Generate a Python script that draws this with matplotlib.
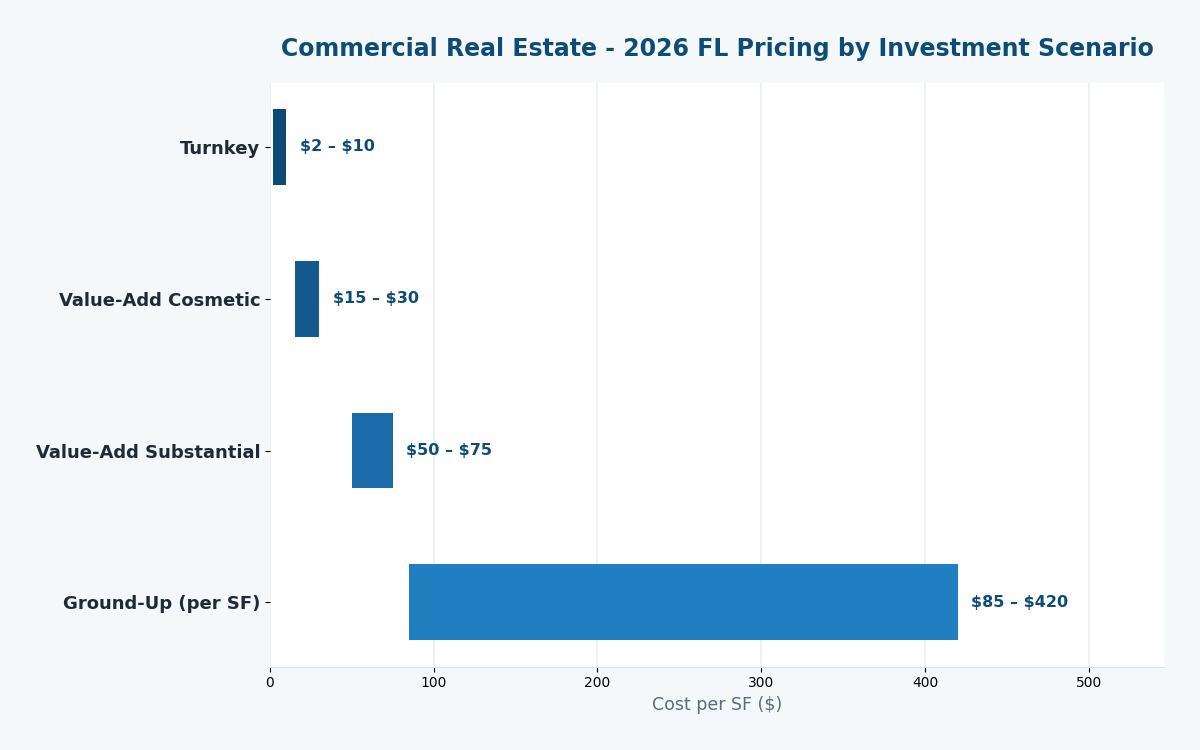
import matplotlib
matplotlib.use("Agg")
import matplotlib.pyplot as plt

scenarios = ["Turnkey", "Value-Add Cosmetic", "Value-Add Substantial", "Ground-Up (per SF)"]
low = [2, 15, 50, 85]
high = [10, 30, 75, 420]
colors = ["#0d4a75", "#155a8f", "#1b6aaa", "#1f7fc1"]

fig, ax = plt.subplots(figsize=(12, 7.5), dpi=100)
fig.patch.set_facecolor("#f4f8fb")
ax.set_facecolor("white")

widths = [h - l for l, h in zip(low, high)]
ax.barh(scenarios, widths, left=low, height=0.5, color=colors, zorder=3)

xmax = max(high) * 1.3
ax.set_xlim(0, xmax)
ax.invert_yaxis()

for i, (l, h) in enumerate(zip(low, high)):
    ax.text(h + xmax * 0.015, i, f"\\${l} \u2013 \\${h}", va="center", ha="left",
            fontsize=11.5, fontweight="bold", color="#0f4c75", zorder=4)

ax.grid(axis="x", color="#eaeef2", linewidth=1.2, zorder=0)
ax.set_axisbelow(True)
for s in ["top", "right", "left"]:
    ax.spines[s].set_visible(False)
ax.spines["bottom"].set_color("#dde3ea")

ax.tick_params(axis="y", labelsize=13, labelcolor="#1f2a36")
for t in ax.get_yticklabels():
    t.set_fontweight("bold")
ax.tick_params(axis="x", labelsize=10)

ax.set_xlabel("Cost per SF (\\$)", fontsize=12.5, color="#5a6b7d")
ax.set_title("Commercial Real Estate - 2026 FL Pricing by Investment Scenario",
             fontsize=17, fontweight="bold", color="#0f4c75", pad=19)

fig.subplots_adjust(left=0.225, right=0.97, top=0.89, bottom=0.111)
fig.savefig("out.png", dpi=100, facecolor=fig.get_facecolor())
